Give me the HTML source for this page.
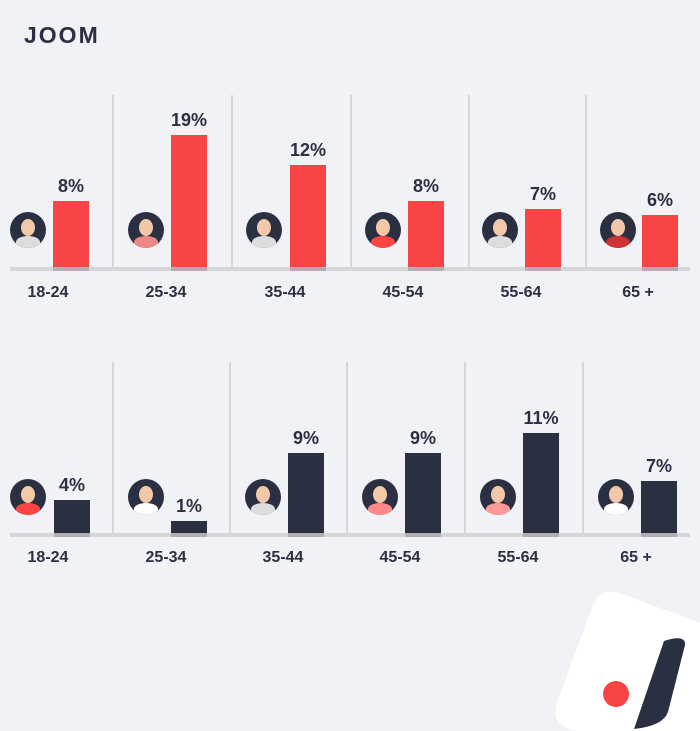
<!DOCTYPE html>
<html style="overflow:hidden;width:700px;height:731px"><head><style>
body{margin:0;width:700px;height:731px;background:#f1f2f6;position:relative;overflow:hidden;font-family:"Liberation Sans",sans-serif;color:#2b2f42}
.a{position:absolute}
.lbl{position:absolute;width:80px;text-align:center;font-weight:bold;font-size:16px}
.pct{position:absolute;width:60px;text-align:center;font-weight:bold;font-size:18px}
.av{position:absolute;width:36px;height:36px;border-radius:50%;background:#2b2f42;overflow:hidden}
.av i{position:absolute;left:11px;top:7px;width:14px;height:17px;border-radius:50%;background:#f2c8a8}
.av b{position:absolute;left:6px;top:24px;width:24px;height:12px;border-radius:50% 50% 0 0}
</style></head><body>
<div class="a" style="left:24px;top:22px;font-size:23px;font-weight:bold;letter-spacing:2px">JOOM</div>
<svg class="a" style="left:0;top:0;display:block" width="700" height="731">
<g fill="#d6d6d8">
<rect x="112" y="95" width="2" height="173"/><rect x="231" y="95" width="2" height="173"/><rect x="350" y="95" width="2" height="173"/><rect x="468" y="95" width="2" height="173"/><rect x="585" y="95" width="2" height="173"/>
<rect x="112" y="362" width="2" height="172"/><rect x="229" y="362" width="2" height="172"/><rect x="346" y="362" width="2" height="172"/><rect x="464" y="362" width="2" height="172"/><rect x="582" y="362" width="2" height="172"/>
<rect x="10" y="267" width="680" height="4"/><rect x="10" y="533" width="680" height="4"/>
</g>
<g fill="#f94446">
<rect x="53" y="201" width="36" height="66"/><rect x="171" y="135" width="36" height="132"/><rect x="290" y="165" width="36" height="102"/><rect x="408" y="201" width="36" height="66"/><rect x="525" y="209" width="36" height="58"/><rect x="642" y="215" width="36" height="52"/>
</g>
<g fill="#2b2f42">
<rect x="54" y="500" width="36" height="33"/><rect x="171" y="521" width="36" height="12"/><rect x="288" y="453" width="36" height="80"/><rect x="405" y="453" width="36" height="80"/><rect x="523" y="433" width="36" height="100"/><rect x="641" y="481" width="36" height="52"/>
</g>
<g fill="#b0b0b2">
<rect x="53" y="267" width="36" height="4"/><rect x="171" y="267" width="36" height="4"/><rect x="290" y="267" width="36" height="4"/><rect x="408" y="267" width="36" height="4"/><rect x="525" y="267" width="36" height="4"/><rect x="642" y="267" width="36" height="4"/>
<rect x="54" y="533" width="36" height="4"/><rect x="171" y="533" width="36" height="4"/><rect x="288" y="533" width="36" height="4"/><rect x="405" y="533" width="36" height="4"/><rect x="523" y="533" width="36" height="4"/><rect x="641" y="533" width="36" height="4"/>
</g>
<path d="M574.5 731 L570.7 729.6 Q550 722 557.6 701.3 L592.4 606.7 Q600 586 620.7 593.6 L700 622.7 L700 731 Z" fill="#fff"/>
<circle cx="616" cy="694" r="13" fill="#f94446"/>
<path d="M664 641 Q686 634 685 645 L668 712 Q663 726 634 729 Z" fill="#2b2f42"/>
</svg>
<div class="av" style="left:10px;top:212px"><i></i><b style="background:#ddd"></b></div>
<div class="av" style="left:128px;top:212px"><i></i><b style="background:#e88"></b></div>
<div class="av" style="left:246px;top:212px"><i></i><b style="background:#ddd"></b></div>
<div class="av" style="left:365px;top:212px"><i></i><b style="background:#f44"></b></div>
<div class="av" style="left:482px;top:212px"><i></i><b style="background:#ddd"></b></div>
<div class="av" style="left:600px;top:212px"><i></i><b style="background:#c33"></b></div>
<div class="av" style="left:10px;top:479px"><i></i><b style="background:#f44"></b></div>
<div class="av" style="left:128px;top:479px"><i></i><b style="background:#fff"></b></div>
<div class="av" style="left:245px;top:479px"><i></i><b style="background:#ddd"></b></div>
<div class="av" style="left:362px;top:479px"><i></i><b style="background:#f88"></b></div>
<div class="av" style="left:480px;top:479px"><i></i><b style="background:#f99"></b></div>
<div class="av" style="left:598px;top:479px"><i></i><b style="background:#fff"></b></div>
<div class="pct" style="left:41px;top:176px">8%</div>
<div class="pct" style="left:159px;top:110px">19%</div>
<div class="pct" style="left:278px;top:140px">12%</div>
<div class="pct" style="left:396px;top:176px">8%</div>
<div class="pct" style="left:513px;top:184px">7%</div>
<div class="pct" style="left:630px;top:190px">6%</div>
<div class="pct" style="left:42px;top:475px">4%</div>
<div class="pct" style="left:159px;top:496px">1%</div>
<div class="pct" style="left:276px;top:428px">9%</div>
<div class="pct" style="left:393px;top:428px">9%</div>
<div class="pct" style="left:511px;top:408px">11%</div>
<div class="pct" style="left:629px;top:456px">7%</div>
<div class="lbl" style="left:8px;top:284px">18-24</div>
<div class="lbl" style="left:126px;top:284px">25-34</div>
<div class="lbl" style="left:245px;top:284px">35-44</div>
<div class="lbl" style="left:363px;top:284px">45-54</div>
<div class="lbl" style="left:481px;top:284px">55-64</div>
<div class="lbl" style="left:598px;top:284px">65 +</div>
<div class="lbl" style="left:8px;top:549px">18-24</div>
<div class="lbl" style="left:126px;top:549px">25-34</div>
<div class="lbl" style="left:243px;top:549px">35-44</div>
<div class="lbl" style="left:360px;top:549px">45-54</div>
<div class="lbl" style="left:478px;top:549px">55-64</div>
<div class="lbl" style="left:596px;top:549px">65 +</div>
</body></html>
